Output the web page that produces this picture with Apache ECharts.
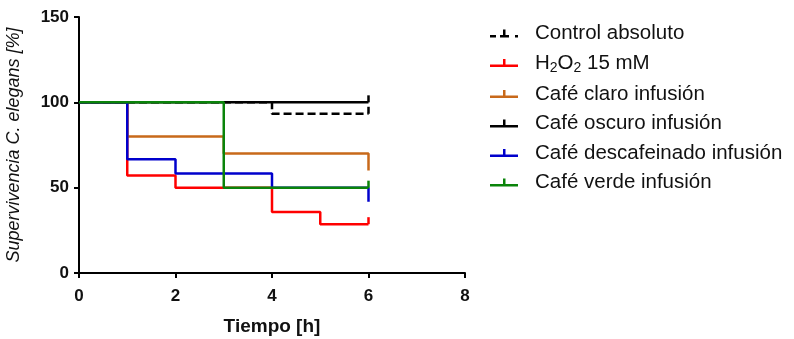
<!DOCTYPE html>
<html>
<head>
<meta charset="utf-8">
<script src="https://cdn.jsdelivr.net/npm/echarts@6/dist/echarts.min.js"></script>
<style>
  html, body { margin: 0; padding: 0; background: #fff; }
  #chart { width: 794px; height: 339px; }
</style>
</head>
<body>
<div id="chart"></div>
<script>
// Kaplan-Meier style survival data (time in h, survival in %)
const seriesNames = ['Control absoluto', 'H2O2 15 mM', 'Café claro infusión', 'Café oscuro infusión', 'Café descafeinado infusión', 'Café verde infusión']
const controlT = [0, 4, 6]
const controlS = [100, 93.3, 93.3]
const h2o2T = [0, 1, 2, 4, 5, 6]
const h2o2S = [100, 57.1, 50, 35.7, 28.6, 28.6]
const claroT = [0, 1, 3, 6]
const claroS = [100, 80, 70, 60]
const oscuroT = [0, 6]
const oscuroS = [100, 100]
const descafT = [0, 1, 2, 4, 6]
const descafS = [100, 66.7, 58.3, 50, 41.7]
const verdeT = [0, 3, 6]
const verdeS = [100, 50, 50]
// censored mark at last time point
const censorEnd = [true, true, false, true, false, true]

const colors = ['#000000', '#ff0000', '#c8691a', '#000000', '#0000cc', '#0a840a']
const times = [controlT, h2o2T, claroT, oscuroT, descafT, verdeT]
const surv = [controlS, h2o2S, claroS, oscuroS, descafS, verdeS]

const tickIcon = 'path://M0,5.5H28V8H0Z M13,0H15.5V8H13Z'
const dashIcon = 'path://M0,5.5H6V8H0Z M10,5.5H19V8H10Z M13,0H15.5V8H13Z M25,5.5H28V8H25Z'

let myChart = echarts.init(document.getElementById('chart'))

const series = seriesNames.map((name, k) => {
  const t = times[k]
  const s = surv[k]
  return {
    name: name,
    type: 'line',
    step: 'end',
    color: colors[k],
    showSymbol: true,
    lineStyle: {
      width: 2.5,
      color: colors[k],
      type: k === 0 ? [8, 4] : 'solid'
    },
    data: t.map((x, i) => ({
      value: [x, s[i]],
      symbol: (censorEnd[k] && i === t.length - 1) ? 'rect' : 'none',
      symbolSize: [2.5, 7],
      symbolOffset: [0, -3.5],
      itemStyle: { color: colors[k] }
    })),
    emphasis: { disabled: true }
  }
})

myChart.setOption({
  animation: false,
  textStyle: { fontFamily: 'Liberation Sans, Arial, sans-serif' },
  grid: {
    left: 79,
    right: 329,
    top: 17,
    bottom: 66,
    outerBoundsMode: 'none'
  },
  legend: {
    orient: 'vertical',
    left: 490,
    top: 23,
    padding: 0,
    itemWidth: 28,
    itemHeight: 8,
    itemGap: 8.5,
    data: seriesNames.map((n, k) => ({ name: n, icon: k === 0 ? dashIcon : tickIcon })),
    formatter: (name) => name === 'H2O2 15 mM' ? 'H{sub|2}O{sub|2} 15 mM' : name,
    textStyle: {
      fontSize: 20.5,
      color: '#111',
      lineHeight: 20,
      padding: [0, 0, 0, 12],
      rich: {
        sub: { fontSize: 14, padding: [10, 0, 0, 0] }
      }
    },
    selectedMode: false
  },
  xAxis: {
    type: 'value',
    min: 0,
    max: 8,
    interval: 2,
    name: 'Tiempo [h]',
    nameLocation: 'middle',
    nameGap: 44,
    nameTextStyle: { fontSize: 19, fontWeight: 'bold', color: '#111' },
    axisLine: { show: true, lineStyle: { color: '#000', width: 2 } },
    axisTick: { show: true, length: 5, lineStyle: { width: 2, color: '#000' } },
    axisLabel: { fontSize: 17, fontWeight: 'bold', color: '#111', margin: 15 },
    splitLine: { show: false }
  },
  yAxis: {
    type: 'value',
    min: 0,
    max: 150,
    interval: 50,
    name: 'Supervivencia C. elegans [%]',
    nameLocation: 'middle',
    nameRotate: 90,
    nameGap: 56,
    nameTextStyle: { fontSize: 18, fontStyle: 'italic', color: '#111' },
    axisLine: { show: true, lineStyle: { color: '#000', width: 2 } },
    axisTick: { show: true, length: 5, lineStyle: { width: 2, color: '#000' } },
    axisLabel: { fontSize: 17, fontWeight: 'bold', color: '#111', margin: 10 },
    splitLine: { show: false }
  },
  series: series
})
</script>
</body>
</html>
